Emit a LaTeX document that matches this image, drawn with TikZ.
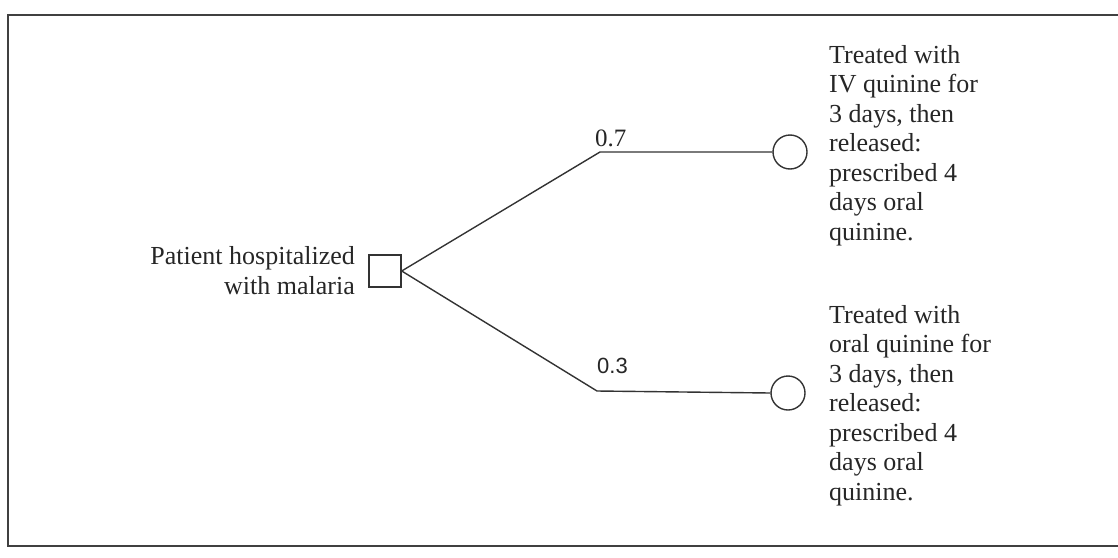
\documentclass[tikz,border=0pt]{standalone}
\usepackage{fontspec}
\setmainfont{Liberation Serif}
\newfontfamily\labelsans{Liberation Sans}
\begin{document}
\begin{tikzpicture}[x=1pt,y=-1pt,
  ink/.style={draw=black!80, line width=1.4pt},
  outcome/.style={font=\fontsize{26}{29.5}\selectfont, text=black!85, align=left, inner sep=0pt, anchor=north west},
  prob/.style={text=black!85, inner sep=0pt, anchor=base west},
  chance/.style={ink, circle, minimum size=34pt, inner sep=0pt},
  decision/.style={ink, rectangle, minimum size=32pt, inner sep=0pt}]
  \useasboundingbox (0,0) rectangle (1118,557);
  % frame, open on the right
  \draw[draw=black!75, line width=2pt] (1130,15) -- (8,15) -- (8,546) -- (1130,546);

  % decision node and its label
  \node[decision] (root) at (385,271) {};
  \node[font=\fontsize{26}{30}\selectfont, text=black!85, align=right, inner sep=0pt, anchor=north east] (rootlabel) at (355,246) {Patient hospitalized\\with malaria};

  % branch bends and chance nodes
  \coordinate (bendA) at (600,152);
  \coordinate (bendB) at (597,391);
  \node[chance] (chanceA) at (790,152) {};
  \node[chance] (chanceB) at (788,393) {};

  \draw[ink] (root.east) -- (bendA) -- (chanceA.west);
  \draw[ink] (root.east) -- (bendB) -- (chanceB.west);

  % branch probabilities
  \node[prob, font=\fontsize{25}{28}\selectfont] (pA) at (595,146) {0.7};
  \node[prob, font=\labelsans\fontsize{22}{26}\selectfont] (pB) at (597,373) {0.3};

  % outcome descriptions
  \node[outcome] (outA) at (829,45) {Treated with\\IV quinine for\\3 days, then\\released:\\prescribed 4\\days oral\\quinine.};
  \node[outcome] (outB) at (829,305) {Treated with\\oral quinine for\\3 days, then\\released:\\prescribed 4\\days oral\\quinine.};
\end{tikzpicture}
\end{document}
